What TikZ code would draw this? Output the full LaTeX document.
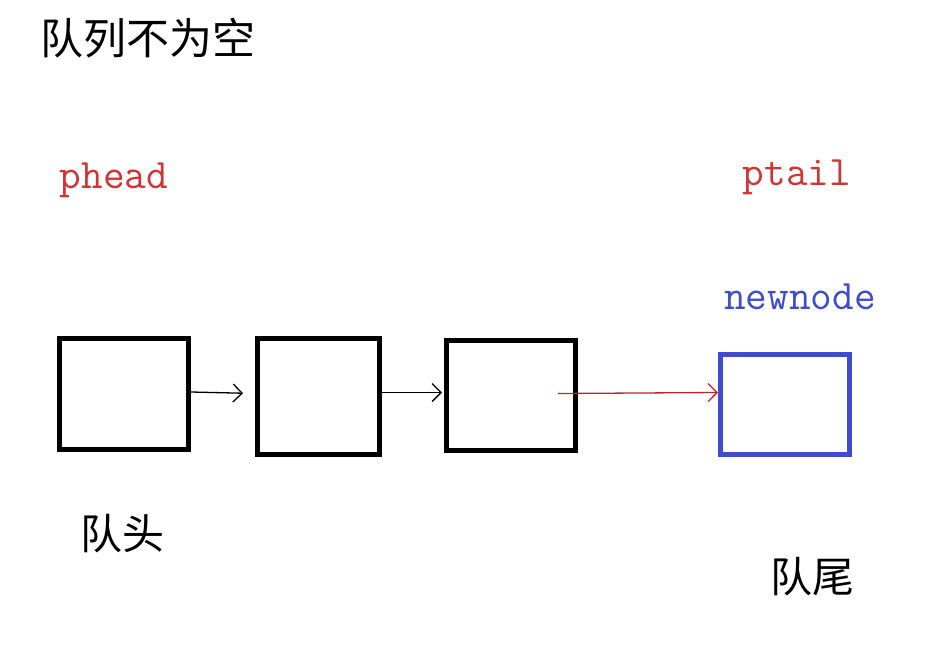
\documentclass[tikz,border=0pt]{standalone}
\usepackage{fontspec}
\setmainfont{Latin Modern Mono}
\newfontfamily\cjk{Noto Sans CJK SC}
\usetikzlibrary{arrows.meta,positioning}
\definecolor{ptrred}{RGB}{208,52,52}
\definecolor{linkred}{RGB}{185,40,40}
\definecolor{newblue}{RGB}{62,76,205}
\begin{document}
\begin{tikzpicture}[x=1pt, y=-1pt,
  qbox/.style={draw=black, line width=5pt, minimum width=#1, inner sep=0pt},
  newbox/.style={draw=newblue, line width=5pt, inner sep=0pt},
  ptr/.style={font=\fontsize{42}{45}\selectfont, text=ptrred},
  cn/.style={font=\cjk\fontsize{42}{45}\selectfont},
  link/.style={-{Straight Barb[length=9pt,width=18pt]}, line width=1.3pt},
]
\useasboundingbox (0,0) rectangle (929,667);
% the queue
\node[qbox=129pt, minimum height=111pt] (q1) at (124,394) {};
\node[qbox=122pt, minimum height=116pt] (q2) at (318.5,396.5) {};
\node[qbox=129pt, minimum height=110pt] (q3) at (511,395.5) {};
\node[newbox, minimum width=129pt, minimum height=100pt] (nn) at (785,404.5) {};

% texts
\node[cn, font=\cjk\fontsize{43}{46}\selectfont] (title) at (148,38) {队列不为空};
\node[ptr] (phead) at (114,180) {phead};
\node[ptr] (ptail) at (797,177) {ptail};
\node[ptr, text=newblue] (newnode) at (800,297) {newnode};
\node[cn] (qhead) at (122,534) {队头};
\node[cn] (qtail) at (812,577) {队尾};

% links
\draw[link, shorten >=12pt] ([yshift=2pt]q1.east) -- ([yshift=3pt]q2.west);
\draw[link, shorten >=2pt] ([yshift=4pt]q2.east) -- ([yshift=3pt]q3.west);
\draw[link, linkred] ([xshift=-20pt, yshift=2pt]q3.east) -- ([yshift=12pt]nn.west);
\end{tikzpicture}
\end{document}
